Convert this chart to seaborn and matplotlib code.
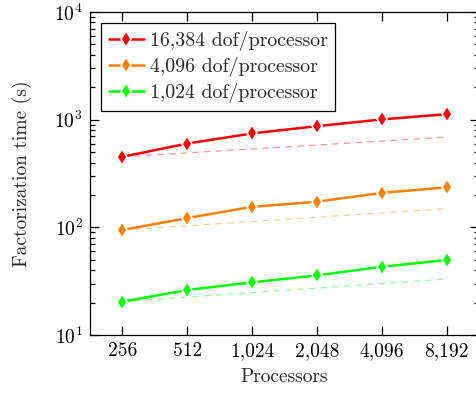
import numpy as np
import pandas as pd
import seaborn as sns
import matplotlib
matplotlib.use("Agg")
import matplotlib.pyplot as plt
from matplotlib.ticker import FixedLocator, FixedFormatter, LogLocator, LogFormatterMathtext, NullLocator

# ---- data ----
processors = [256, 512, 1024, 2048, 4096, 8192]
tick_labels = ["256", "512", "1,024", "2,048", "4,096", "8,192"]
series_names = ["16,384 dof/processor", "4,096 dof/processor", "1,024 dof/processor"]
t_16384 = [452, 600, 745, 870, 1005, 1125]
t_4096 = [94.5, 122, 155, 173, 209, 235]
t_1024 = [20.4, 26.2, 30.8, 35.8, 43.0, 49.7]
ideal_procs = [256, 8192]
ideal_16384 = [452, 688]
ideal_4096 = [94.5, 149]
ideal_1024 = [20.4, 33.1]
colors = ["#ff0000", "#ff8000", "#00ff00"]

sns.set_style("ticks")
plt.rcParams["font.family"] = ["cmr10"]
plt.rcParams["mathtext.fontset"] = "cm"
plt.rcParams["axes.formatter.use_mathtext"] = True
plt.rcParams["font.size"] = 14

df = pd.DataFrame({
    "Processors": processors * 3,
    "time": t_16384 + t_4096 + t_1024,
    "series": [series_names[0]] * 6 + [series_names[1]] * 6 + [series_names[2]] * 6,
})
dfi = pd.DataFrame({
    "Processors": ideal_procs * 3,
    "time": ideal_16384 + ideal_4096 + ideal_1024,
    "series": [series_names[0]] * 2 + [series_names[1]] * 2 + [series_names[2]] * 2,
})

fig = plt.figure(figsize=(4.76, 3.94), dpi=100)
ax = fig.add_axes([90 / 476, 59 / 394, 389 / 476, 323 / 394])

pal = dict(zip(series_names, colors))
sns.lineplot(data=dfi, x="Processors", y="time", hue="series", palette=pal,
             ax=ax, legend=False, linewidth=0.8, alpha=0.45, dashes=False,
             linestyle=(0, (6, 4.5)))
sns.lineplot(data=df, x="Processors", y="time", hue="series", palette=pal,
             ax=ax, marker="d", markersize=8, markeredgewidth=1.2,
             linewidth=1.8, hue_order=series_names)

ax.set_xscale("log", base=2)
ax.set_yscale("log")
ax.set_xlim(256 / np.sqrt(2), 8192 * np.sqrt(2))
ax.set_ylim(10, 1e4)
ax.xaxis.set_major_locator(FixedLocator(processors))
ax.xaxis.set_major_formatter(FixedFormatter(tick_labels))
ax.xaxis.set_minor_locator(NullLocator())
ax.yaxis.set_major_locator(LogLocator(base=10, numticks=10))
ax.yaxis.set_minor_locator(LogLocator(base=10, subs=np.arange(2, 10), numticks=10))
ax.yaxis.set_major_formatter(LogFormatterMathtext())

ax.tick_params(which="both", direction="in", top=True, right=True, width=0.9, colors="black")
ax.tick_params(which="major", length=6.5, labelsize=14, pad=5)
ax.tick_params(which="minor", length=3.6)
ax.tick_params(axis="y", which="major", pad=5)
for s in ax.spines.values():
    s.set_linewidth(0.9)
    s.set_color("black")
    s.set_visible(True)

ax.set_xlabel("Processors", fontsize=14, labelpad=6)
ax.set_ylabel("Factorization time (s)", fontsize=14, labelpad=16)

leg = ax.legend(loc="upper left", frameon=True, fancybox=False, edgecolor="black",
                framealpha=1, fontsize=14.3, handlelength=1.75, handletextpad=0.3,
                labelspacing=0.3, borderpad=0.4, borderaxespad=0.55)
leg.get_frame().set_linewidth(0.9)

fig.savefig("out.png", dpi=100)
